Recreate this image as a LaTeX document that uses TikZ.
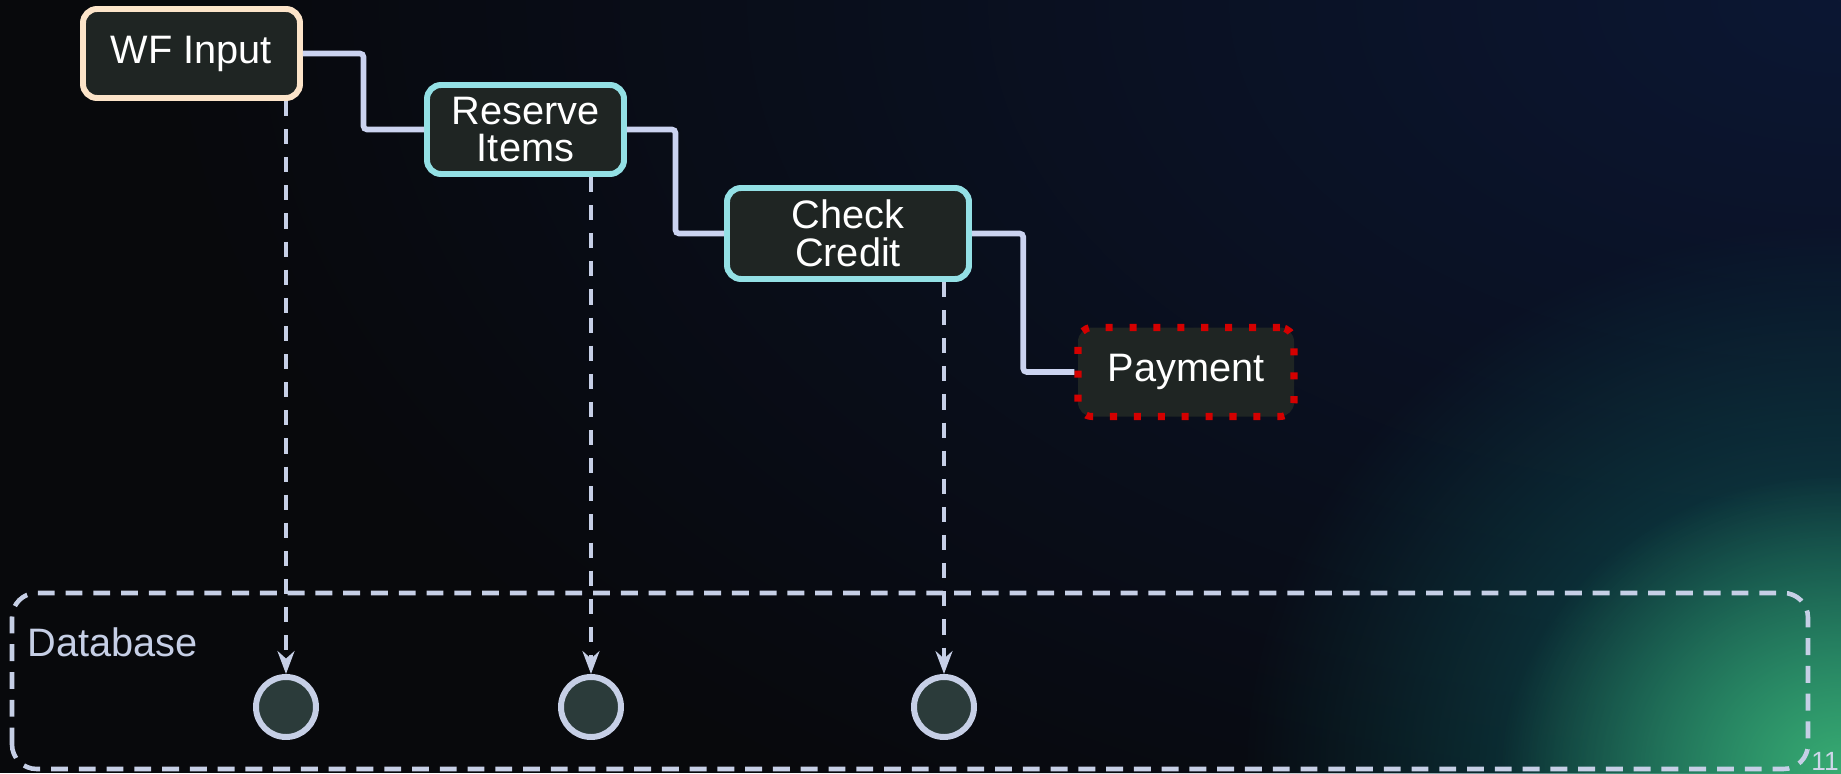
\documentclass[tikz,border=0pt]{standalone}
\usepackage{fontspec}
\setmainfont{Liberation Sans}
\usepackage{xcolor}
\usetikzlibrary{positioning, arrows.meta, calc, fadings}

\definecolor{bgdark}{HTML}{08090C}
\definecolor{bgnavy}{HTML}{0C1733}
\definecolor{bgglow}{HTML}{38AC72}
\definecolor{bgteal}{HTML}{0F5558}
\definecolor{peach}{HTML}{FCE4C9}
\definecolor{skyline}{HTML}{93E0E5}
\definecolor{boxfill}{HTML}{1F2523}
\definecolor{wire}{HTML}{CBD3F0}
\definecolor{dbline}{HTML}{C6CFE6}
\definecolor{dbfill}{HTML}{2B3B3A}
\definecolor{failred}{HTML}{D40000}

\tikzfading[name=glowfade, inner color=transparent!0, outer color=transparent!100]

\begin{document}
\begin{tikzpicture}[>=Stealth,
  task/.style={draw, line width=1.7pt, rounded corners=4pt, fill=boxfill,
    text=white, align=center, minimum height=0.89cm, inner sep=2pt,
    font=\fontsize{11.3}{10.7}\selectfont},
  flow/.style={draw=wire, line width=1.6pt, rounded corners=1pt},
  write/.style={draw=dbline, line width=1.4pt, dash pattern=on 4.3pt off 3.7pt,
    -{Stealth[length=6.5pt, width=4.8pt]}},
  dbnode/.style={circle, draw=dbline, line width=1.7pt, fill=dbfill,
    minimum size=0.6cm, inner sep=0pt}]
  \useasboundingbox (0,0) rectangle (18.41,7.73);
  % background with the corner glow
  \fill[bgdark] (0,0) rectangle (18.41,7.73);
  \begin{scope}
    \clip (0,0) rectangle (18.41,7.73);
    \fill[bgnavy, path fading=glowfade] (18.41,7.73) ellipse (17 and 10);
    \fill[bgteal, path fading=glowfade] (18.41,0) ellipse (6 and 5.5);
    \fill[bgglow, path fading=glowfade] (18.41,0) ellipse (3.4 and 3);
  \end{scope}

  % workflow steps
  \node[task, draw=peach, minimum width=2.17cm] (wf) at (1.915,7.195) {WF Input};
  \node[task, draw=skyline, minimum width=1.97cm] (res) at (5.255,6.435) {Reserve\\Items};
  \node[task, draw=skyline, minimum width=2.42cm, minimum height=0.91cm] (chk) at (8.48,5.395) {Check\\Credit};
  \node[task, draw=failred, dash pattern=on 2pt off 4.8pt, line width=2pt,
        minimum width=2.16cm] (pay) at (11.86,4.01) {Payment};

  \draw[flow] (wf.east) -| ($(wf.east)!.5!(res.west)$) |- (res.west);
  \draw[flow] (res.east) -| ($(res.east)!.5!(chk.west)$) |- (chk.west);
  \draw[flow] (chk.east) -| ($(chk.east)!.5!(pay.west)$) |- (pay.west);

  % database lane
  \draw[dbline, line width=1.3pt, dash pattern=on 4.8pt off 3.1pt, rounded corners=7pt]
       (0.12,0.04) rectangle (18.08,1.80);
  \node[anchor=west, inner sep=0pt, text=dbline, font=\fontsize{11.3}{13}\selectfont]
       (dblabel) at (0.27,1.31) {Database};
  \node[dbnode] (db1) at (2.86,0.66) {};
  \node[dbnode] (db2) at (5.91,0.66) {};
  \node[dbnode] (db3) at (9.44,0.66) {};

  \draw[write] (wf.south -| db1) -- (db1.north);
  \draw[write] (res.south -| db2) -- (db2.north);
  \draw[write] (chk.south -| db3) -- (db3.north);

  \node[anchor=base, inner sep=0pt, text=dbline!85, font=\fontsize{7.5}{8}\selectfont]
       (pageno) at (18.25,0.03) {11};
\end{tikzpicture}
\end{document}
